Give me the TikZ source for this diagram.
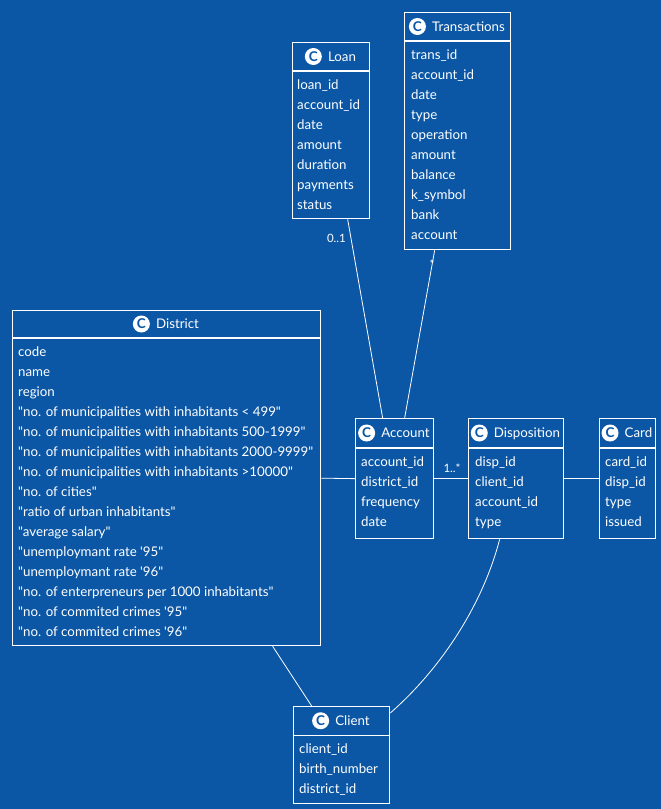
\documentclass[tikz,border=0pt]{standalone}
\usepackage{fontspec}
\newfontfamily\umlfont{Lato}
\definecolor{bg}{RGB}{11,87,166}
\tikzset{
  box/.style={draw=white, line width=1.3pt, anchor=north west, inner sep=0pt},
  hline/.style={draw=white, line width=1.3pt},
  attr/.style={anchor=west, inner sep=0pt, text=white, font=\umlfont\fontsize{13.3}{15}\selectfont, text height=9.5pt, text depth=3pt},
  ttl/.style={inner sep=0pt, text=white, font=\umlfont\fontsize{13.3}{15}\selectfont, text height=9.5pt, text depth=3pt},
  cc/.style={circle, fill=white, inner sep=0pt, minimum size=17pt, text=bg, font=\umlfont\bfseries\fontsize{13.5}{14}\selectfont},
  conn/.style={draw=white, line width=0.8pt},
  lbl/.style={inner sep=0pt, text=white, font=\umlfont\fontsize{11.5}{13}\selectfont}
}
\newcommand\umlattrs[4]{\foreach \t [count=\i] in {#4} {\node[attr] (#1-a\i) at (#2, #3+20*\i-18.5) {\t};}}
\newcommand\umlbox[7]{% name, x1, y1, x2, y2, header line y, title
  \pgfmathsetmacro\bw{#4-#2}\pgfmathsetmacro\bh{#5-#3}%
  \pgfmathsetmacro\tx{(#2+#4)/2+11.5}\pgfmathsetmacro\ty{(#3+#6)/2+1.5}%
  \node[box, minimum width=\bw pt, minimum height=\bh pt] (#1) at (#2,#3) {};
  \draw[hline] (#2,#6) -- (#4,#6);
  \node[ttl] (#1-t) at (\tx,\ty) {#7};
  \node[cc] (#1-c) at ([xshift=-14.5pt,yshift=1.5pt]#1-t.west) {C};}
\begin{document}
\begin{tikzpicture}[x=1pt,y=-1pt]
\fill[bg] (0,0) rectangle (661,809);
\useasboundingbox (0,0) rectangle (661,809);

\umlbox{loan}{292}{42}{369}{218}{71}{Loan}
\umlattrs{loan}{297}{85}{loan\_id,account\_id,date,amount,duration,payments,status}

\umlbox{trans}{404}{12}{510}{249}{41}{Transactions}
\umlattrs{trans}{411}{55}{trans\_id,account\_id,date,type,operation,amount,balance,k\_symbol,bank,account}

\umlbox{district}{12}{310}{320}{645}{338}{District}
\umlattrs{district}{18}{352}{code,name,region,{"no. of municipalities with inhabitants < 499"},{"no. of municipalities with inhabitants 500-1999"},{"no. of municipalities with inhabitants 2000-9999"},{"no. of municipalities with inhabitants >10000"},{"no. of cities"},{"ratio of urban inhabitants"},{"average salary"},{"unemploymant rate '95"},{"unemploymant rate '96"},{"no. of enterpreneurs per 1000 inhabitants"},{"no. of commited crimes '95"},{"no. of commited crimes '96"}}

\umlbox{account}{355}{418}{433}{538}{448}{Account}
\umlattrs{account}{361}{462}{account\_id,district\_id,frequency,date}

\umlbox{disp}{468}{418}{563}{538}{448}{Disposition}
\umlattrs{disp}{475}{462}{disp\_id,client\_id,account\_id,type}

\umlbox{card}{599}{418}{655}{538}{448}{Card}
\umlattrs{card}{605}{462}{card\_id,disp\_id,type,issued}

\umlbox{client}{293}{706}{389}{803}{735.5}{Client}
\umlattrs{client}{299}{749}{client\_id,birth\_number,district\_id}

% connectors
\draw[conn] ([xshift=16.5pt]loan.south) -- ([xshift=-12pt]account.north);
\node[lbl, anchor=east] (l01) at (346,238) {0..1};
\draw[conn] ([xshift=-23pt]trans.south) -- ([xshift=10pt]account.north);
\node[lbl] (lstar) at (432,264) {*};
\draw[conn] (district.east) -- (account.west);
\draw[conn] (account.east) -- (disp.west);
\node[lbl] (l1n) at (452,468) {1..*};
\draw[conn] (disp.east) -- (card.west);
\draw[conn] ([xshift=106pt]district.south) -- ([xshift=-30pt]client.north);
\draw[conn] ([xshift=-16.5pt]disp.south) .. controls (484,600) and (445,665) .. ([yshift=-7pt]client.north east);
\end{tikzpicture}
\end{document}
